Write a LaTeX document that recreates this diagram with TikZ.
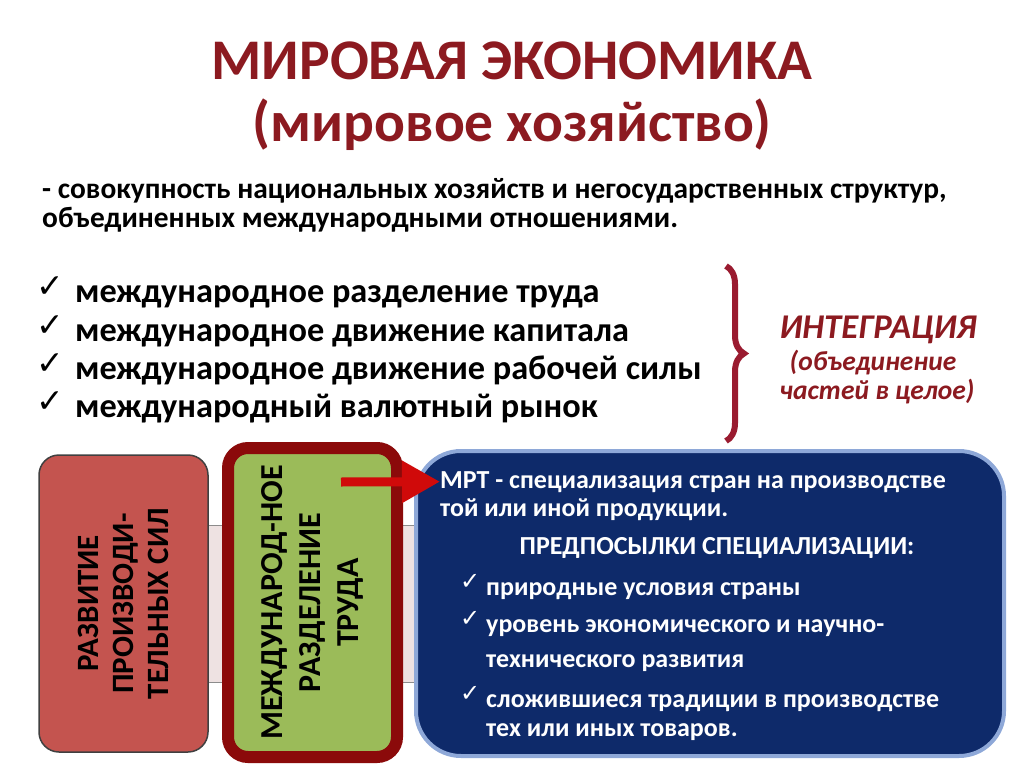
\documentclass[tikz,border=0pt]{standalone}
\usepackage{fontspec}
\setmainfont{Carlito}
\newfontfamily\symfont{DejaVu Sans}
\usetikzlibrary{arrows.meta,decorations.pathreplacing,backgrounds}
\definecolor{titlered}{HTML}{8C1A20}
\definecolor{bracered}{HTML}{9A1B30}
\definecolor{boxred}{HTML}{C4544F}
\definecolor{boxgreen}{HTML}{9BBB59}
\definecolor{framered}{HTML}{8B0A0A}
\definecolor{boxblue}{HTML}{0E2A6A}
\definecolor{edgeblue}{HTML}{8EA8D8}
\definecolor{arrowred}{HTML}{D00A0A}
\definecolor{bandpink}{HTML}{EEE2E2}
\newcommand{\chk}{{\symfont ✓}}
\begin{document}
\begin{tikzpicture}[x=1pt,y=-1pt]
    \useasboundingbox (0,0) rectangle (1024,767);
    % heading
    \tikzstyle{titletext} = [text=titlered,font=\bfseries\fontsize{57.5}{60}\selectfont,inner sep=0pt]
    \node[titletext,anchor=base] (title) at (512,80) {МИРОВАЯ ЭКОНОМИКА};
    \node[titletext,anchor=base] (subtitle) at (512,142) {(мировое хозяйство)};
    \tikzstyle{deftext} = [anchor=base west,inner sep=0pt,font=\bfseries\fontsize{29.4}{32}\selectfont]
    \node[deftext] (def1) at (42,199) {- совокупность национальных хозяйств и негосударственных структур,};
    \node[deftext] (def2) at (42,228) {объединенных международными отношениями.};
    % list
    \begin{scope}
        \tikzstyle{rowitem} = [anchor=base west,inner sep=0pt,font=\bfseries\fontsize{34.3}{38}\selectfont]
        \tikzstyle{rowcheck} = [anchor=base west,inner sep=0pt,font=\fontsize{33}{36}\selectfont]
        \node[rowcheck] (c1) at (36,297) {\chk};
        \node[rowcheck] (c2) at (36,336) {\chk};
        \node[rowcheck] (c3) at (36,374) {\chk};
        \node[rowcheck] (c4) at (36,412) {\chk};
        \node[rowitem] (l1) at (75,302) {международное разделение труда};
        \node[rowitem] (l2) at (75,341) {международное движение капитала};
        \node[rowitem] (l3) at (75,379) {международное движение рабочей силы};
        \node[rowitem] (l4) at (75,417) {международный валютный рынок};
    \end{scope}
    \coordinate (bracetop) at (726,266);
    \coordinate (bracebot) at (726,441);
    \draw[bracered,line width=6pt,decorate,decoration={brace,amplitude=18pt}] (bracetop) -- (bracebot);
    \tikzstyle{integtext} = [text=titlered,inner sep=0pt,anchor=base,font=\bfseries\itshape\fontsize{27.5}{30}\selectfont]
    \node[integtext,font=\bfseries\itshape\fontsize{34.7}{38}\selectfont] (integ) at (878,338) {ИНТЕГРАЦИЯ};
    \node[integtext] (integ2) at (873,370) {(объединение};
    \node[integtext] (integ3) at (877,399) {частей в целое)};
    % bottom boxes
    \tikzstyle{vertbox} = [rounded corners=20pt,align=center,rotate=90,inner sep=0pt]
    \node[vertbox,font=\bfseries\fontsize{31}{35}\selectfont,fill=boxred,draw=black!75,line width=1.5pt,minimum width=297pt,minimum height=169pt] (razv) at (123.5,603.5)
        {РАЗВИТИЕ\\ПРОИЗВОДИ-\\ТЕЛЬНЫХ СИЛ};
    \node[vertbox,font=\bfseries\fontsize{32}{38}\selectfont,fill=boxgreen,draw=framered,line width=12pt,minimum width=309pt,minimum height=169pt] (mrd) at (312.5,602.5)
        {МЕЖДУНАРОД-НОЕ\\РАЗДЕЛЕНИЕ\\ТРУДА};
    \node[rounded corners=45pt,fill=boxblue,draw=edgeblue,line width=4pt,minimum width=588pt,minimum height=305pt] (mrt) at (710,603.5) {};
    \begin{pgfonlayer}{background}
        \fill[bandpink] (razv.south |- 0,525) rectangle (mrt.west |- 0,682);
        \draw[black!45,line width=1pt] (razv.south |- 0,525) -- (mrt.west |- 0,525);
        \draw[black!45,line width=1pt] (razv.south |- 0,682) -- (mrt.west |- 0,682);
    \end{pgfonlayer}
    % text in the blue box
    \begin{scope}
        \tikzstyle{bluetext} = [text=white,anchor=base west,inner sep=0pt,font=\bfseries\fontsize{26}{30}\selectfont]
        \tikzstyle{bluecheck} = [text=white,anchor=base west,inner sep=0pt,font=\fontsize{24}{26}\selectfont]
        \node[bluecheck] (b1) at (460,589) {\chk};
        \node[bluecheck] (b2) at (460,626) {\chk};
        \node[bluecheck] (b3) at (460,701) {\chk};
        \node[bluetext] (mrt1) at (440,488) {МРТ - специализация стран на производстве};
        \node[bluetext] (mrt2) at (440,516) {той или иной продукции.};
        \node[bluetext,anchor=base] (pred) at (717,554) {ПРЕДПОСЫЛКИ СПЕЦИАЛИЗАЦИИ:};
        \node[bluetext] (p1) at (486,595) {природные условия страны};
        \node[bluetext] (p2) at (486,632) {уровень экономического и научно-};
        \node[bluetext] (p3) at (486,667) {технического развития};
        \node[bluetext] (p4) at (486,707) {сложившиеся традиции в производстве};
        \node[bluetext] (p5) at (486,736) {тех или иных товаров.};
    \end{scope}
    \coordinate (arrowstart) at (341,482);
    \draw[arrowred,line width=9pt,-{Triangle[length=38pt,width=40pt]}] (arrowstart) -- (mrt1.west);
\end{tikzpicture}
\end{document}
